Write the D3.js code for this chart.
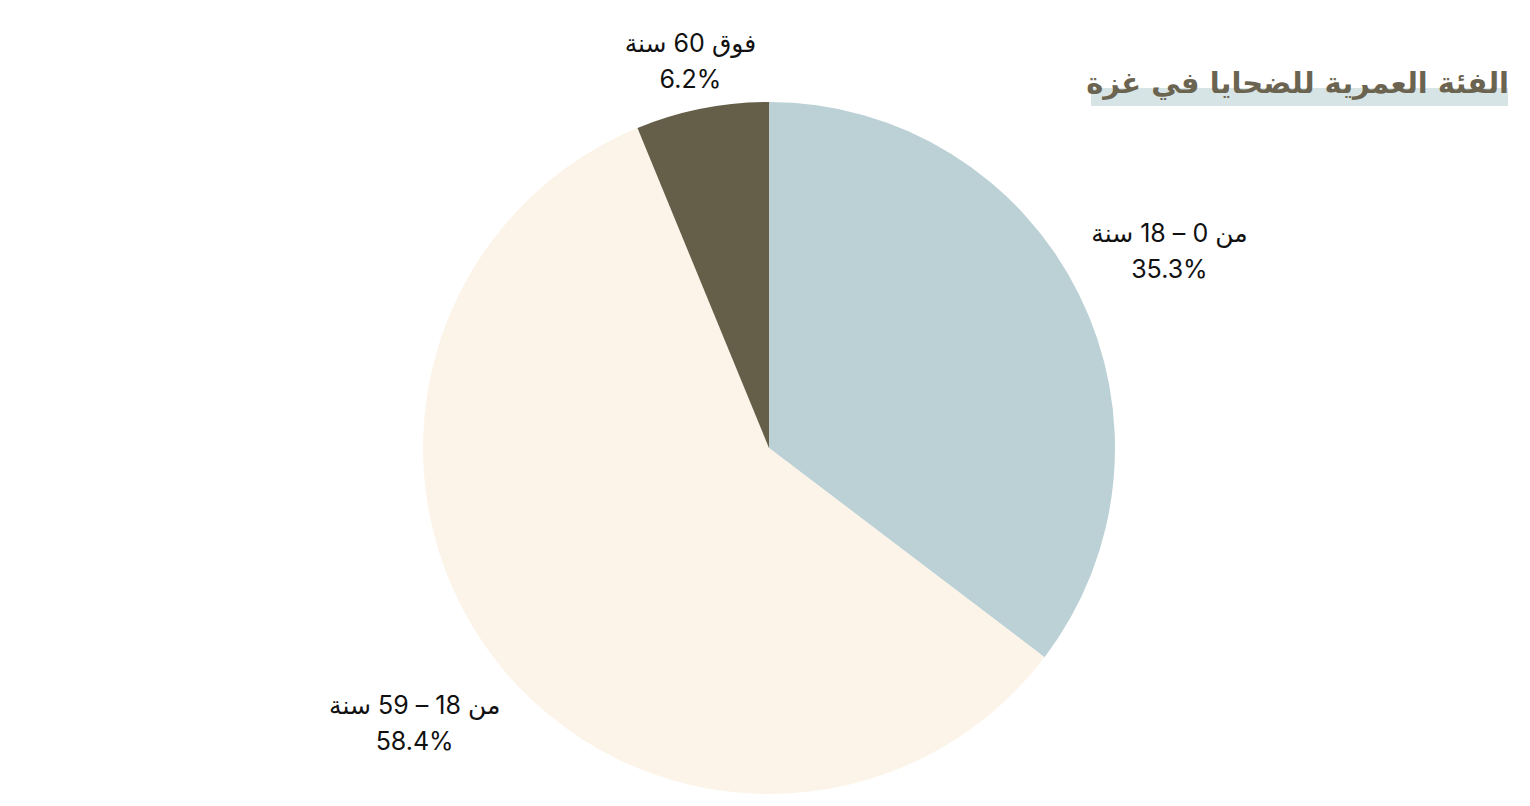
<!DOCTYPE html>
<html lang="ar">
<head>
<meta charset="utf-8">
<script src="https://cdn.jsdelivr.net/npm/d3@7"></script>
<style>
  html, body { margin: 0; padding: 0; background: #ffffff; }
  svg { display: block; }
</style>
</head>
<body>
<svg id="chart" width="1530" height="806"></svg>
<script>
const categories = ["من 0 – 18 سنة", "من 18 – 59 سنة", "فوق 60 سنة"];
const values = [35.3, 58.4, 6.2];
const colors = ["#bcd1d6", "#fcf4e8", "#655e48"];
const title = "الفئة العمرية للضحايا في غزة";

const svg = d3.select("#chart");
const W = 1530, H = 806;
const cx = 769, cy = 448, r = 346;

const data = categories.map((c, i) => ({ cat: c, value: values[i], color: colors[i] }));
const pie = d3.pie().sort(null).value(d => d.value);
const arcs = pie(data);
const arc = d3.arc().innerRadius(0).outerRadius(r);
const labelArc = d3.arc().innerRadius(r * 1.292).outerRadius(r * 1.292);

const g = svg.append("g").attr("transform", `translate(${cx},${cy})`);
g.selectAll("path.slice").data(arcs).enter().append("path")
  .attr("class", "slice")
  .attr("d", arc)
  .attr("fill", d => d.data.color);

const labels = g.selectAll("g.label").data(arcs).enter().append("g")
  .attr("class", "label")
  .attr("transform", d => {
    let [x, y] = labelArc.centroid(d);
    const minY = 59 - cy;
    if (y < minY) { y = minY; x += 8; }
    return `translate(${x},${y})`;
  });

const labelFont = "Inter, 'Noto Sans', 'DejaVu Sans', sans-serif";

labels.append("text")
  .attr("y", -7)
  .attr("text-anchor", "middle")
  .attr("direction", "rtl")
  .style("font-family", labelFont)
  .style("font-size", "25px")
  .style("fill", "#111111")
  .text(d => d.data.cat);

labels.append("text")
  .attr("y", 29)
  .attr("text-anchor", "middle")
  .style("font-family", labelFont)
  .style("font-size", "25px")
  .style("fill", "#111111")
  .text(d => d3.format(".1f")(d.data.value) + "%");

// title with highlight bar
const titleG = svg.append("g");
titleG.append("rect")
  .attr("x", 1091).attr("y", 88).attr("width", 417).attr("height", 18)
  .attr("fill", "#d7e4e6");
titleG.append("text")
  .attr("x", 1509).attr("y", 93)
  .attr("text-anchor", "start")
  .attr("direction", "rtl")
  .style("font-family", "'DejaVu Sans', sans-serif")
  .style("font-weight", "bold")
  .style("font-size", "29px")
  .style("fill", "#6b6450")
  .text(title);
</script>
</body>
</html>
